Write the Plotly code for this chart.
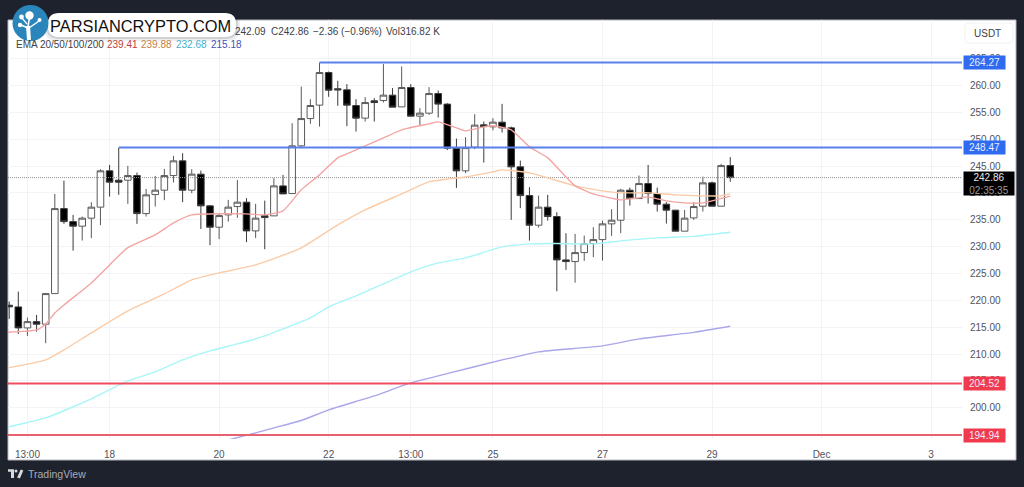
import plotly.graph_objects as go

# 4h candles
opens = [219.10, 218.79, 214.88, 216.05, 215.57, 221.27, 237.09, 234.67, 233.82, 235.31,
         237.36, 244.12, 242.38, 242.38, 243.24, 236.16, 239.70, 240.52, 243.24, 245.98,
         240.52, 243.50, 237.60, 233.63, 235.92, 237.47, 238.29, 232.94, 235.74, 235.74,
         241.32, 239.89, 248.77, 253.85, 256.35, 262.42, 259.39, 259.20, 256.28, 253.93,
         257.15, 257.21, 258.21, 256.03, 259.63, 254.30, 254.86, 258.51, 256.54, 248.34,
         244.12, 248.53, 252.68, 252.31, 253.18, 252.12, 244.86, 239.52, 234.00, 237.36,
         235.61, 227.54, 227.23, 228.90, 230.58, 231.32, 234.25, 234.93, 240.52, 238.96,
         241.75, 239.89, 237.91, 236.80, 232.89, 235.36, 237.54, 241.88, 237.54, 245.10]
highs = [219.78, 221.64, 216.80, 217.30, 221.34, 239.83, 242.31, 235.92, 235.61, 238.29,
         244.43, 245.23, 248.40, 245.05, 243.80, 240.76, 243.18, 244.49, 246.91, 247.41,
         244.43, 244.17, 237.78, 236.24, 238.71, 242.44, 239.03, 237.97, 238.58, 242.76,
         243.37, 253.00, 259.81, 257.47, 264.28, 262.61, 260.88, 260.26, 257.47, 257.84,
         257.65, 263.99, 259.52, 263.54, 260.26, 255.79, 259.70, 259.07, 256.72, 250.13,
         250.39, 254.67, 253.30, 253.93, 256.59, 252.36, 246.03, 241.08, 239.52, 239.65,
         236.42, 232.51, 232.38, 232.07, 233.63, 234.86, 236.98, 240.76, 241.01, 243.24,
         245.23, 241.01, 238.29, 236.85, 236.85, 238.29, 243.05, 242.12, 245.42, 246.67]
lows = [216.55, 213.76, 213.39, 214.19, 212.03, 221.27, 234.25, 229.27, 231.14, 231.58,
        234.00, 239.33, 239.65, 237.97, 234.25, 235.61, 237.47, 238.66, 241.94, 238.29,
        239.96, 233.31, 230.28, 231.40, 234.67, 235.36, 230.84, 231.58, 229.53, 235.74,
        239.83, 239.89, 248.34, 252.87, 252.36, 257.90, 256.22, 252.44, 251.43, 253.30,
        253.30, 256.83, 255.98, 256.03, 254.30, 252.63, 254.54, 254.04, 247.97, 240.95,
        243.69, 248.16, 245.66, 251.66, 251.25, 234.99, 237.17, 231.14, 233.56, 234.86,
        221.71, 225.68, 223.31, 227.36, 228.04, 227.41, 232.01, 232.51, 237.65, 238.90,
        238.03, 236.54, 234.30, 232.89, 232.89, 234.99, 236.54, 237.54, 237.54, 242.09]
closes = [218.80, 214.88, 216.05, 215.57, 221.27, 237.09, 234.67, 233.82, 235.31, 237.36,
          244.12, 242.01, 242.01, 243.24, 236.16, 239.65, 240.52, 243.24, 245.98, 240.52,
          243.50, 237.60, 233.63, 235.79, 237.36, 238.29, 232.94, 235.31, 235.42, 241.32,
          239.83, 248.77, 253.85, 256.28, 262.42, 259.14, 259.20, 256.35, 253.93, 256.83,
          256.83, 258.21, 255.98, 259.63, 254.30, 254.86, 258.51, 256.54, 248.34, 244.12,
          248.45, 252.63, 252.36, 253.18, 252.12, 244.86, 239.52, 234.00, 237.36, 235.61,
          227.54, 227.23, 228.90, 230.58, 231.32, 234.25, 234.93, 240.52, 238.96, 241.75,
          239.89, 237.91, 236.80, 232.89, 235.31, 237.47, 241.88, 237.54, 245.10, 242.86]

# EMAs, sampled at the bends
ema20_x = [-0.13, 3, 4, 5, 6, 9, 11, 13, 16, 18, 20, 26, 28, 30, 32, 34, 36, 37, 41, 43, 46, 47,
           49, 50, 52, 53, 55, 57, 59, 61, 62, 64, 67, 68, 70, 72, 74, 76, 77, 79]
ema20 = [214.08, 214.51, 215.62, 217.67, 219.16, 223.26, 226.61, 229.83, 232.20, 234.43, 235.92,
         236.11, 235.92, 236.67, 240.58, 243.37, 246.54, 247.28, 250.26, 251.75, 252.87, 253.24,
         252.12, 251.56, 252.31, 252.50, 251.75, 248.58, 246.54, 243.00, 241.32, 239.83, 238.71,
         238.90, 239.27, 238.53, 238.16, 238.16, 238.53, 239.41]
ema50_x = [-0.13, 4, 6, 9, 13, 17, 20, 23, 27, 32, 36, 39, 43, 46, 50, 53, 54, 57, 59, 62, 65,
           67, 70, 73, 76, 78, 79]
ema50 = [207.43, 208.92, 210.78, 213.95, 218.04, 221.21, 223.82, 225.12, 226.61, 229.78, 234.06,
         236.85, 239.83, 242.07, 243.00, 243.93, 244.30, 243.74, 242.81, 241.32, 240.39, 240.02,
         240.02, 239.65, 239.46, 239.46, 239.88]
ema100_x = [-0.13, 4, 9, 13, 16, 19, 22, 25, 28, 30, 33, 35, 38, 41, 44, 47, 50, 54, 57, 60, 64,
            67, 71, 75, 79]
ema100 = [196.44, 198.12, 201.66, 205.01, 206.69, 208.92, 210.60, 211.90, 213.39, 214.69, 216.74,
          218.79, 220.84, 223.07, 225.31, 226.98, 227.91, 229.96, 230.52, 230.58, 230.52, 231.08,
          231.64, 231.92, 232.68]
ema200_x = [24, 27, 29, 32, 35, 40, 44, 47, 50, 54, 55, 58, 65, 69, 75, 79]
ema200 = [194.02, 195.33, 196.26, 197.65, 199.61, 202.22, 204.64, 205.94, 207.24, 208.92, 209.29,
          210.41, 211.53, 212.83, 214.04, 215.18]

# horizontal levels
blue_levels = [264.27, 248.47]
blue_starts = [34, 12]
red_levels = [204.52, 194.94]
last_price = 242.86

x_ticks = [2, 11, 23, 35, 44, 53, 65, 77, 89, 101]
x_labels = ["13:00", "18", "20", "22", "13:00", "25", "27", "29", "Dec", "3"]
y_ticks = list(range(195, 270, 5))

DARK = "#1e222d"
FONT = "Liberation Sans"
LABEL = "#50535e"

W, H = 1024, 487
X0, X1 = -0.13, 104.39
Y0, Y1 = 194.2, 272.2


def px(x):
    return x / W


def py(y):
    return 1 - y / H


def rrect(x0, y0, x1, y1, r, fill, border=None):
    # rounded box in page pixels
    p = (f"M {px(x0 + r)} {py(y0)} L {px(x1 - r)} {py(y0)} Q {px(x1)} {py(y0)} {px(x1)} {py(y0 + r)} "
         f"L {px(x1)} {py(y1 - r)} Q {px(x1)} {py(y1)} {px(x1 - r)} {py(y1)} "
         f"L {px(x0 + r)} {py(y1)} Q {px(x0)} {py(y1)} {px(x0)} {py(y1 - r)} "
         f"L {px(x0)} {py(y0 + r)} Q {px(x0)} {py(y0)} {px(x0 + r)} {py(y0)} Z")
    line = dict(color=border, width=1) if border else dict(width=0)
    return dict(type="path", path=p, xref="paper", yref="paper", fillcolor=fill, line=line, layer="above")


def circle(cx, cy, r, fill):
    return dict(type="circle", xref="paper", yref="paper", x0=px(cx - r), x1=px(cx + r),
                y0=py(cy + r), y1=py(cy - r), fillcolor=fill, line=dict(width=0), layer="above")


def seg(x0, y0, x1, y1, color, width):
    return dict(type="line", xref="paper", yref="paper", x0=px(x0), x1=px(x1), y0=py(y0), y1=py(y1),
                line=dict(color=color, width=width), layer="above")


def label(x, y, text, color=LABEL, size=10, anchor="left", **kw):
    return dict(xref="paper", yref="paper", x=px(x), y=py(y), text=text, showarrow=False,
                xanchor=anchor, yanchor="middle", font=dict(family=FONT, size=size, color=color), **kw)


fig = go.Figure()

fig.add_trace(go.Scatter(x=[X0, X1], y=[last_price, last_price], mode="lines",
                         line=dict(color="#8f8f8f", width=1, dash="1px,1px")))

for xs, ys, color in [(ema50_x, ema50, "#fbcba6"), (ema100_x, ema100, "#a6f6f8"), (ema200_x, ema200, "#a9a6ea")]:
    fig.add_trace(go.Scatter(x=xs, y=ys, mode="lines", line=dict(color=color, width=1.4, shape="spline", smoothing=0.5)))
fig.add_trace(go.Scatter(x=ema20_x, y=ema20, mode="lines", line=dict(color="#f3a5a2", width=1.4, shape="spline", smoothing=0.5)))

fig.add_trace(go.Candlestick(
    x=list(range(len(opens))), open=opens, high=highs, low=lows, close=closes,
    increasing=dict(fillcolor="#ffffff", line=dict(color="#5a5a5a", width=1)),
    decreasing=dict(fillcolor="#000000", line=dict(color="#3a3a3a", width=1)),
    whiskerwidth=0,
))

for start, level in zip(blue_starts, blue_levels):
    fig.add_trace(go.Scatter(x=[start, X1], y=[level, level], mode="lines",
                             line=dict(color="#5a80ea", width=2)))
for level, color in zip(red_levels, ["#ef4c5e", "#e8616f"]):
    fig.add_trace(go.Scatter(x=[X0, X1], y=[level, level], mode="lines", line=dict(color=color, width=2)))

# header sits under the logo pill, so it has to be a trace and not an annotation
fig.add_trace(go.Scatter(x=[X0], y=[273.7], mode="text", textposition="middle right", cliponaxis=False,
                         text=["BestInCryptos1 published on TradingView.com, Nov 29, 2024 10:24 UTC-3"],
                         textfont=dict(family=FONT, size=10, color="#aeb1ba")))

shapes = [
    dict(type="rect", xref="paper", yref="paper", x0=px(8), x1=px(1016), y0=py(460), y1=py(20),
         fillcolor="#ffffff", line=dict(color="#b4b7bd", width=1), layer="below"),
    rrect(965, 23, 1013, 43, 4, "rgba(255,255,255,0)", border="#f0f1f3"),
    # logo halo and pill
    rrect(44, 10, 240, 41, 14, "rgba(30,34,45,0.08)"),
    rrect(46, 11, 238, 39, 13, "rgba(30,34,45,0.14)"),
    rrect(48, 13, 236, 37, 11, "#ffffff"),
    circle(30.5, 23, 18, "#2a86ba"),
    circle(29.5, 15.5, 4.2, "#ffffff"),
    circle(21.5, 17, 2.4, "#ffffff"),
    circle(39.5, 20, 2, "#ffffff"),
    circle(20, 25, 2.2, "#ffffff"),
    seg(29, 40, 28, 26, "#ffffff", 4),
    seg(28, 26, 29.5, 18, "#ffffff", 1.5),
    seg(28, 28, 21, 25, "#ffffff", 1.5),
    seg(29, 28, 39, 21, "#ffffff", 1.5),
    seg(27, 24, 22, 18, "#ffffff", 1.2),
    # TradingView mark
    seg(8, 470.5, 14, 470.5, "#d8d9dd", 2.5),
    seg(12.5, 470, 12.5, 478, "#d8d9dd", 3),
    circle(16, 471, 1.5, "#d8d9dd"),
    seg(22, 470, 18.5, 478, "#d8d9dd", 3),
]

annotations = [
    label(48, 25.5, "PARSIANCRYPTO.COM", color="#111111", size=16.4),
    label(233, 32, "242.09", color="#3c3f48"),
    label(269, 32, "C242.86", color="#3c3f48"),
    label(311, 32, "−2.36 (−0.96%)", color="#3c3f48"),
    label(384, 32, "Vol316.82 K", color="#3c3f48"),
    label(14, 45, "EMA 20/50/100/200", color="#3c3f48"),
    label(105, 45, "239.41", color="#c0413a"),
    label(139, 45, "239.88", color="#c8803f"),
    label(174, 45, "232.68", color="#43aecb"),
    label(209, 45, "215.18", color="#3f51b5"),
    label(972, 33, "USDT", color="#3c3f48"),
    label(26, 474, "TradingView", color="#a9acb5", size=10.5),
]

# price tags on the axis
for level, color, text in [(blue_levels[0], "#2f6bf0", "264.27"), (blue_levels[1], "#2f6bf0", "248.47"),
                           (red_levels[0], "#f23a4e", "204.52"), (red_levels[1], "#f23a4e", "194.94")]:
    annotations.append(dict(xref="paper", yref="y", x=px(963), y=level, text=text, showarrow=False,
                            xanchor="left", yanchor="middle", bgcolor=color, width=40, height=12, borderpad=0.5,
                            align="center", font=dict(family=FONT, size=10, color="#e8ecff")))
annotations.append(dict(xref="paper", yref="paper", x=px(963), y=py(183.5), showarrow=False,
                        text="242.86<br><span style='color:#9a9a9a'>02:35:35</span>",
                        xanchor="left", yanchor="middle", bgcolor="#000000", width=50, height=23, borderpad=0,
                        align="center", font=dict(family=FONT, size=10, color="#e6e6e6")))

fig.update_layout(
    width=W, height=H, margin=dict(l=0, r=0, t=0, b=0),
    paper_bgcolor=DARK, plot_bgcolor="rgba(0,0,0,0)", showlegend=False,
    boxgap=0.28, boxgroupgap=0,
    shapes=shapes, annotations=annotations,
    xaxis=dict(domain=[px(8), px(962)], range=[X0, X1], tickmode="array", tickvals=x_ticks, ticktext=x_labels,
               rangeslider=dict(visible=False), gridcolor="#f3f3f5", gridwidth=1, zeroline=False,
               ticks="outside", ticklen=6, tickcolor="rgba(0,0,0,0)", showline=False,
               tickfont=dict(family=FONT, size=10, color=LABEL)),
    yaxis=dict(domain=[py(439), py(20)], range=[Y0, Y1], side="right", tickmode="array", tickvals=y_ticks,
               ticktext=[f"{v:.2f}" for v in y_ticks], gridcolor="#f3f3f5", gridwidth=1, zeroline=False,
               ticks="outside", ticklen=5, tickcolor="rgba(0,0,0,0)", showline=False,
               tickfont=dict(family=FONT, size=10, color=LABEL)),
)

# page must be exactly the figure size, no body margin or inline gap under the graph
fix_page = """
document.documentElement.style.cssText='margin:0;height:487px;overflow:hidden';
document.body.style.cssText='margin:0;height:487px;overflow:hidden';
var gd=document.getElementById('{plot_id}');
gd.parentElement.style.cssText='height:487px;overflow:hidden;line-height:0';
"""
fig.write_html("out.html", post_script=fix_page, config=dict(displayModeBar=False))
